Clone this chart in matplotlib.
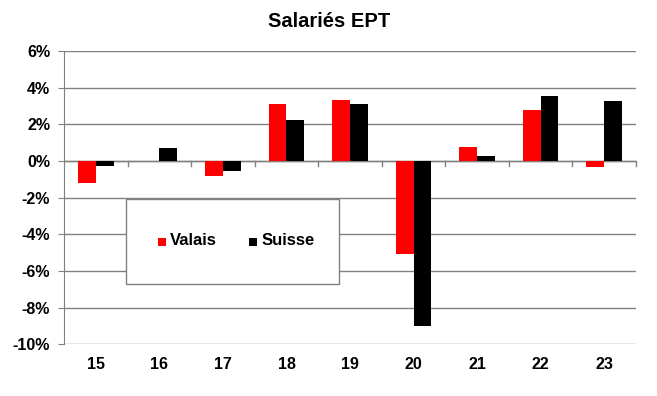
import matplotlib
matplotlib.use("Agg")
import matplotlib.pyplot as plt
import numpy as np
from matplotlib.patches import Rectangle

years = ["15", "16", "17", "18", "19", "20", "21", "22", "23"]
valais = [-1.22, 0.0, -0.84, 3.13, 3.30, -5.08, 0.78, 2.80, -0.35]
suisse = [-0.29, 0.69, -0.57, 2.22, 3.13, -8.98, 0.29, 3.57, 3.26]
yticks = [-10, -8, -6, -4, -2, 0, 2, 4, 6]
series_names = ["Valais", "Suisse"]
series_colors = ["#ff0000", "#000000"]

plt.rcParams['font.family'] = ['Liberation Sans', 'DejaVu Sans']

W, H = 657, 396
fig = plt.figure(figsize=(W / 100, H / 100), dpi=100)
ax = fig.add_axes([64 / W, 1 - 344.3 / H, (636 - 64) / W, (344.3 - 51) / H])

x = np.arange(len(years))
bw = 0.28
ax.bar(x - bw / 2, valais, bw, color=series_colors[0], zorder=3)
ax.bar(x + bw / 2, suisse, bw, color=series_colors[1], zorder=3)

ax.set_xlim(-0.5, len(years) - 0.5)
ax.set_ylim(-10, 6)
ax.set_yticks(yticks)
ax.set_yticklabels([f"{v}%" for v in yticks], fontsize=11.5, fontweight="bold")
ax.yaxis.grid(True, color="#808080", linewidth=1.0, zorder=0)
ax.set_axisbelow(True)

for s in ["top", "right", "bottom"]:
    ax.spines[s].set_visible(False)
ax.spines["left"].set_color("#808080")
ax.tick_params(axis="y", length=4, color="#808080", pad=6)

ax.set_xticks(x)
ax.set_xticklabels(years, fontsize=11.5, fontweight="bold")
ax.tick_params(axis="x", length=0, pad=9)
ax.axhline(0, color="#808080", linewidth=1.0, zorder=2)
for b in np.arange(0.5, len(years) - 0.4, 1.0):
    ax.plot([b, b], [0, -0.27], color="#808080", linewidth=1.0, zorder=2,
            clip_on=False)

def fx(px):
    return px / W

def fy(py):
    return 1 - py / H

fig.patches.append(Rectangle((fx(125.5), fy(284.3)), fx(339.3) - fx(125.5), fy(199.3) - fy(284.3),
                             transform=fig.transFigure, facecolor="white", edgecolor="#808080",
                             linewidth=1.0, zorder=10))
sq = 7.5
for (sx, tx), name, col in zip([(158.3, 170.0), (249.3, 262.0)], series_names, series_colors):
    fig.patches.append(Rectangle((fx(sx), fy(245.7)), sq / W, sq / H, transform=fig.transFigure,
                                 facecolor=col, edgecolor="none", zorder=11))
    fig.text(fx(tx), fy(240.5), name, ha="left", va="center", fontsize=12,
             fontweight="bold", zorder=12)

fig.text(329 / W, 1 - 21.5 / H, "Salariés EPT", ha="center", va="center",
         fontsize=14.5, fontweight="bold")

fig.savefig("out.png", dpi=100)
